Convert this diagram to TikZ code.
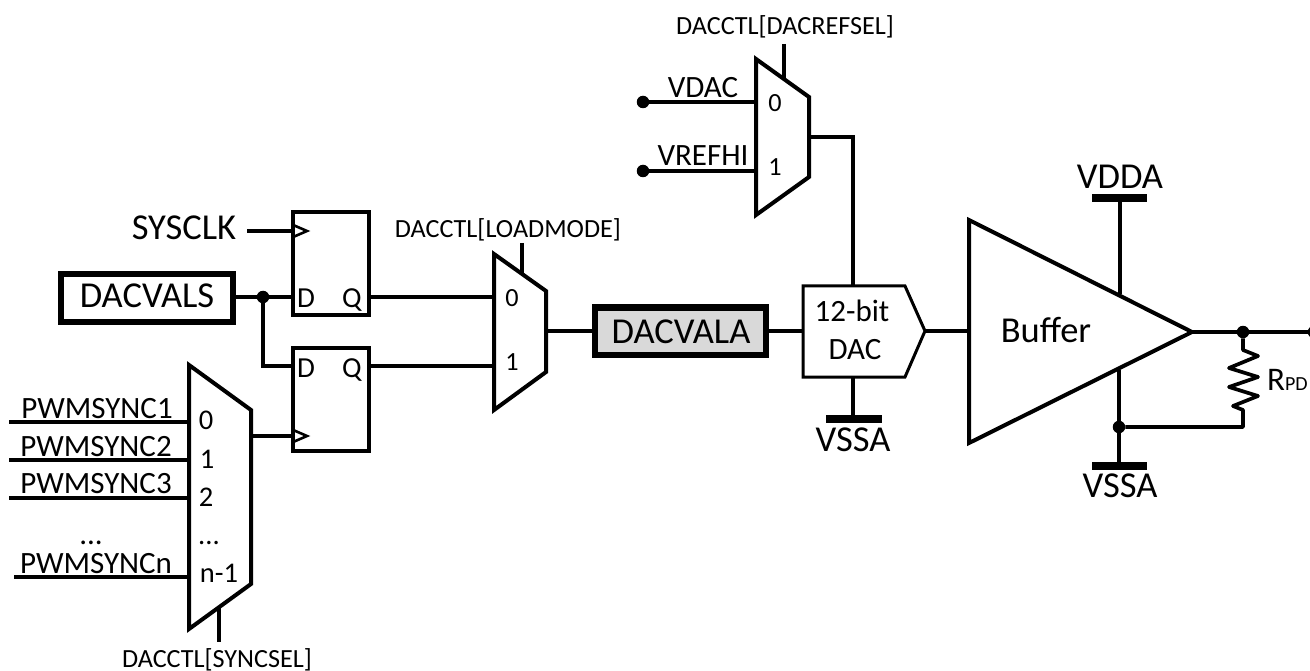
\documentclass[tikz,border=0pt]{standalone}
\usepackage{fontspec}
\setmainfont{Carlito}
\newcommand{\fs}[1]{\fontsize{#1}{#1}\selectfont}
\tikzset{
  x=1pt,y=-1pt,
  wire/.style={line width=3.7pt,line cap=butt,line join=miter},
  shapeline/.style={line width=4pt,line join=miter,fill=white},
  tag/.style={inner sep=0pt,anchor=base,text=black},
  tagxl/.style={tag,font=\fs{36.5}},
  taglg/.style={tag,font=\fs{31}},
  tagmd/.style={tag,font=\fs{28.5}},
  tagsm/.style={tag,font=\fs{26.2}},
  jun/.style={circle,fill=black,inner sep=0pt,minimum size=#1},
  jun/.default=12.5pt,
  rail/.style={line width=8pt,line cap=butt},
  ffbox/.style={draw,line width=3.8pt,minimum width=76pt,minimum height=103pt,inner sep=0pt,fill=white},
  regbox/.style={draw,line width=6pt,inner sep=0pt,minimum width=172pt,minimum height=47pt,font=\fs{35}},
}
\begin{document}
\begin{tikzpicture}
\useasboundingbox (0,0) rectangle (1310,671);

% ---- flip-flops
\node[ffbox] (ff1) at (331,263.5) {};
\node[ffbox] (ff2) at (331,399.5) {};
\coordinate (ff1d) at (291,297);
\coordinate (ff1c) at (291,231);
\coordinate (ff1q) at (371,297);
\coordinate (ff2d) at (291,366);
\coordinate (ff2c) at (291,436);
\coordinate (ff2q) at (371,366);
\draw[line width=2.6pt,line join=miter] (292,224.5) -- (307,231) -- (292,237.5);
\draw[line width=2.6pt,line join=miter] (292,429.5) -- (307,436) -- (292,442.5);
\node[tag,font=\fs{29}] (d1) at (306,308) {D};
\node[tag,font=\fs{29}] (q1) at (352,308) {Q};
\node[tag,font=\fs{29}] (d2) at (306,377) {D};
\node[tag,font=\fs{29}] (q2) at (352,377) {Q};

% ---- DACVALS
\node[regbox] (vals) at (147,298) {};
\node[tagxl] (valstxt) at (147,308) {DACVALS};
\node[tagxl] (sysclk) at (184,240) {SYSCLK};
\coordinate (clkstart) at (247,231);
\node[jun] (split) at (263,297) {};
\coordinate (bend) at (263,366);
\draw[wire] (clkstart) -- (ff1c);
\draw[wire] (vals.east |- split) -- (split) -- (ff1d);
\draw[wire] (split) -- (bend) -- (ff2d);

% ---- sync mux
\coordinate (s1) at (9,422);
\coordinate (s2) at (9,460);
\coordinate (s3) at (9,498);
\coordinate (sn) at (14,577);
\coordinate (s1e) at (189,422);
\coordinate (s2e) at (189,460);
\coordinate (s3e) at (189,498);
\coordinate (sne) at (189,577);
\coordinate (sout) at (251,436);
\coordinate (ssel) at (219,607);
\coordinate (sselend) at (219,642);
\draw[wire] (s1) -- (s1e);
\draw[wire] (s2) -- (s2e);
\draw[wire] (s3) -- (s3e);
\draw[wire] (sn) -- (sne);
\draw[wire] (sout) -- (ff2c);
\draw[wire] (ssel) -- (sselend);
\draw[shapeline] (189,365) -- (251,410) -- (251,584) -- (189,629) -- cycle;
\node[taglg] (p1) at (97,418) {PWMSYNC1};
\node[taglg] (p2) at (96,456) {PWMSYNC2};
\node[taglg] (p3) at (96,493) {PWMSYNC3};
\node[taglg] (pdots) at (91,544) {...};
\node[taglg] (pn) at (96,573) {PWMSYNCn};
\node[tagmd] (m0) at (206,429) {0};
\node[tagmd] (m1) at (207,468) {1};
\node[tagmd] (m2) at (206,506) {2};
\node[tagmd] (mdots) at (209,544) {...};
\node[tagmd] (mn) at (219,582) {n-1};
\node[tagsm] (syncsel) at (217,667) {DACCTL[SYNCSEL]};

% ---- load mux
\coordinate (l0) at (494,298);
\coordinate (l1) at (494,366);
\coordinate (lout) at (546,331);
\coordinate (lsel) at (522,243);
\coordinate (lselend) at (522,274);
\draw[wire] (ff1q) -- (l0 |- ff1q);
\draw[wire] (ff2q) -- (l1);
\draw[wire] (lsel) -- (lselend);
\draw[shapeline] (494,254) -- (546,291) -- (546,372) -- (494,410) -- cycle;
\node[tagsm] (l0t) at (512,307) {0};
\node[tagsm] (l1t) at (512,370) {1};
\node[tagsm] (loadmode) at (508,238) {DACCTL[LOADMODE]};

% ---- DACVALA
\node[regbox,fill=black!15,minimum width=171pt,minimum height=47pt,line width=6pt] (vala) at (680.5,331) {};
\node[tagxl] (valatxt) at (681,343) {DACVALA};
\draw[wire] (lout) -- (vala.west);

% ---- DAC
\coordinate (dacin) at (803,331);
\coordinate (dacout) at (925,331);
\coordinate (dactop) at (853,286);
\coordinate (dacbot) at (853,377);
\draw[wire] (vala.east) -- (dacin);
\draw[line width=3pt,line join=miter,fill=white] (803,286) -- (905,286) -- (dacout) -- (905,377) -- (803,377) -- cycle;
\node[taglg] (bit) at (852,322) {12-bit};
\node[taglg] (dactxt) at (855,359) {DAC};
\coordinate (vssa1) at (853,419);
\draw[rail] (826,419) -- (882,419);
\draw[wire] (dacbot) -- (vssa1);
\node[tagxl] (vssa1t) at (853,451) {VSSA};

% ---- ref mux
\node[jun] (vd) at (643,102) {};
\node[jun] (vr) at (643,171) {};
\coordinate (r0) at (756,102);
\coordinate (r1) at (756,171);
\coordinate (rout) at (809,137);
\coordinate (rbend) at (853,137);
\coordinate (rsel) at (784,44);
\coordinate (rselend) at (784,79);
\draw[wire] (vd) -- (r0);
\draw[wire] (vr) -- (r1);
\draw[wire] (rsel) -- (rselend);
\draw[wire] (rout) -- (rbend) -- (dactop);
\draw[shapeline] (756,59) -- (809,97) -- (809,177) -- (756,215) -- cycle;
\node[tagsm] (refsel) at (785,35) {DACCTL[DACREFSEL]};
\node[taglg] (vdac) at (703,98) {VDAC};
\node[taglg] (vrefhi) at (703,166) {VREFHI};
\node[tagsm] (r0t) at (775,112) {0};
\node[tagsm] (r1t) at (775,176) {1};

% ---- buffer
\coordinate (bin) at (969,331);
\coordinate (btip) at (1192,332);
\coordinate (vddaT) at (1120,198);
\coordinate (vddaB) at (1120,294);
\coordinate (vssaT) at (1119,370);
\coordinate (vssaB) at (1119,466);
\draw[wire] (dacout) -- (bin);
\draw[wire] (vddaT) -- (vddaB);
\draw[wire] (vssaT) -- (vssaB);
\draw[rail] (1092,198) -- (1147,198);
\draw[rail] (1092,466) -- (1147,466);
\draw[shapeline] (969,220) -- (btip) -- (969,443) -- cycle;
\node[tagxl] (buftxt) at (1046,342) {Buffer};
\node[tagxl] (vdda) at (1120,189) {VDDA};
\node[tagxl] (vssa2t) at (1120,497) {VSSA};

% ---- output
\node[jun] (outj) at (1243,332) {};
\node[jun] (outend) at (1314,332) {};
\node[jun] (gndj) at (1119,427) {};
\coordinate (rbot) at (1243,427);
\draw[wire] (btip) -- (outj) -- (outend);
\draw[wire,line join=round] (outj) -- (1243,350) -- (1258,356) -- (1229,368) -- (1258,377) -- (1229,387) -- (1258,396) -- (1233,406) -- (1243,410) -- (rbot) -- (gndj);
\node[tag,anchor=base west,font=\fs{33}] (rpd) at (1267,390) {R{\fs{20}PD}};
\end{tikzpicture}
\end{document}
